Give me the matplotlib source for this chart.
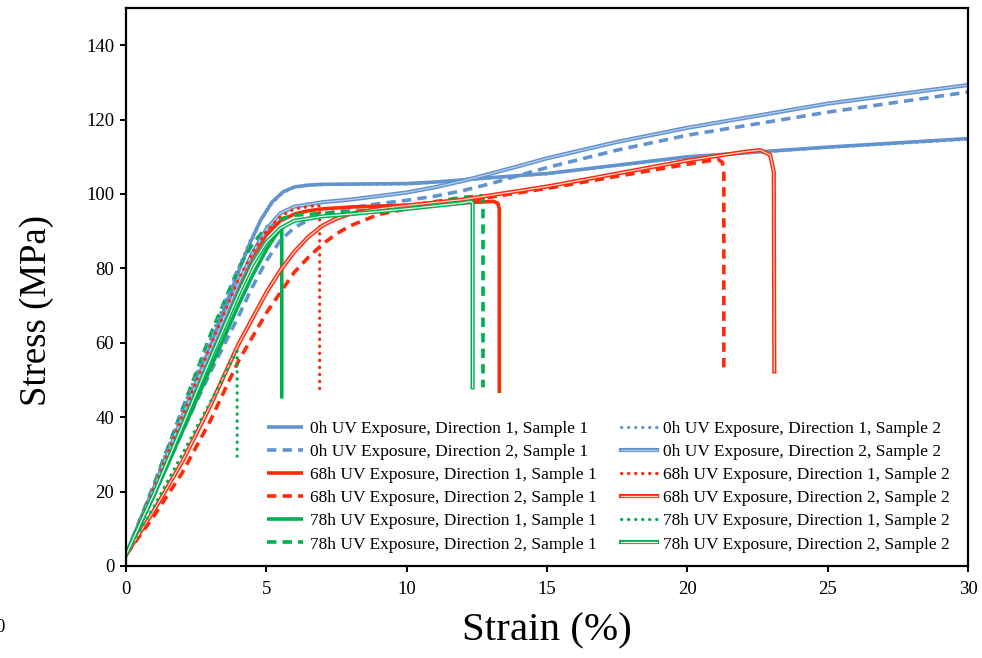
import matplotlib
matplotlib.use("Agg")
import matplotlib.pyplot as plt
import matplotlib.patheffects as pe
from matplotlib.colors import to_rgb

plt.rcParams['font.family'] = ['Liberation Serif', 'DejaVu Serif']

# ---------------- data (strain %, stress MPa) ----------------
x_0h_d1_s1 = [0, 1, 2, 3, 4, 4.4, 4.8, 5.2, 5.6, 6, 6.5, 7, 10, 11, 12, 13, 15, 20, 25, 30]
y_0h_d1_s1 = [3, 21, 40, 59, 79, 86.5, 93, 97.8, 100.6, 101.9, 102.4, 102.6, 102.8, 103.2, 103.8, 104.4, 105.5, 110, 112.6, 114.9]

x_0h_d1_s2 = [0, 1, 2, 3, 4, 4.4, 4.8, 5.2, 5.6, 6, 6.5, 7, 10, 11, 12, 13, 15, 20, 25, 30]
y_0h_d1_s2 = [3, 22, 42, 61, 80, 87, 93, 97.5, 100.4, 101.8, 102.3, 102.5, 102.7, 103.1, 103.7, 104.3, 105.4, 109.9, 112.5, 114.7]

x_0h_d2_s1 = [0, 1, 2, 3, 4, 4.5, 5, 5.5, 6, 6.5, 7, 8, 9, 10, 11, 12, 13, 14, 15, 17.5, 20, 25, 30]
y_0h_d2_s1 = [3, 19, 36, 52, 67, 75, 82, 87.5, 91, 93, 94.5, 96.3, 97.4, 98.3, 99.4, 100.9, 102.8, 105, 107.1, 111.8, 115.8, 122, 127.4]

x_0h_d2_s2 = [0, 1, 2, 3, 4, 4.5, 5, 5.5, 6, 7, 8, 10, 11, 12, 13, 14, 15, 17.5, 20, 25, 30]
y_0h_d2_s2 = [3, 21, 40, 58, 76, 84, 90.5, 94.8, 96.6, 97.8, 98.5, 100.4, 101.8, 103.5, 105.5, 107.5, 109.6, 114, 117.8, 124.3, 129.3]

x_68h_d1_s1 = [0, 1, 2, 3, 4, 4.5, 5, 5.5, 6, 6.5, 7, 8, 10, 12, 13.1, 13.25, 13.3, 13.3]
y_68h_d1_s1 = [3, 20.5, 39, 57.5, 75, 83, 89, 92.8, 94.6, 95.5, 96, 96.5, 97, 97.6, 98, 97.5, 96, 46.5]

x_68h_d1_s2 = [0, 1, 2, 3, 4, 4.5, 5, 5.5, 6, 6.85, 6.9, 6.9]
y_68h_d1_s2 = [3, 21, 40, 59, 77, 84, 90, 94, 96, 97, 96.5, 46.8]

x_68h_d2_s1 = [0, 1, 2, 3, 4, 5, 6, 6.5, 7, 7.5, 8, 9, 10, 12, 15, 20, 21.1, 21.25, 21.3, 21.3]
y_68h_d2_s1 = [3, 13.5, 25, 39, 55, 68, 79, 83, 86.5, 89.3, 91.5, 94.5, 96, 98, 101.5, 108, 109.3, 108.5, 106, 52.5]

x_68h_d2_s2 = [0, 1, 2, 3, 4, 5, 5.5, 6, 6.5, 7, 7.5, 8, 9, 10, 12, 15, 20, 22, 22.6, 22.95, 23.08, 23.1]
y_68h_d2_s2 = [3, 15, 28, 43, 59.5, 73.5, 79.5, 84.5, 88.5, 91.5, 93.4, 94.7, 96, 96.9, 98.5, 102, 109, 111.3, 111.8, 110.5, 106, 52.3]

x_78h_d1_s1 = [0, 1, 2, 3, 4, 4.5, 5, 5.3, 5.55, 5.55]
y_78h_d1_s1 = [3, 19, 36, 53, 70, 78, 85, 88.5, 91, 45]

x_78h_d1_s2 = [0, 1, 2, 3, 3.9, 3.96, 3.96]
y_78h_d1_s2 = [3, 16, 30, 44, 57, 57.8, 29.5]

x_78h_d2_s1 = [0, 1, 2, 3, 4, 4.5, 5, 5.5, 6, 7, 8, 10, 12, 12.65, 12.72, 12.72]
y_78h_d2_s1 = [3, 22, 42, 62, 80, 86.5, 91, 93.3, 94.3, 94.8, 95.2, 96.8, 99.1, 99.5, 99, 48]

x_78h_d2_s2 = [0, 1, 2, 3, 4, 4.5, 5, 5.5, 6, 7, 8, 10, 12, 12.3, 12.35, 12.35]
y_78h_d2_s2 = [3, 19.5, 37.5, 55.5, 73, 81, 87, 90.8, 92.8, 94, 94.6, 96, 97.6, 98, 97.5, 48]

labels = [
    "0h UV Exposure, Direction 1, Sample 1",
    "0h UV Exposure, Direction 2, Sample 1",
    "68h UV Exposure, Direction 1, Sample 1",
    "68h UV Exposure, Direction 2, Sample 1",
    "78h UV Exposure, Direction 1, Sample 1",
    "78h UV Exposure, Direction 2, Sample 1",
    "0h UV Exposure, Direction 1, Sample 2",
    "0h UV Exposure, Direction 2, Sample 2",
    "68h UV Exposure, Direction 1, Sample 2",
    "68h UV Exposure, Direction 2, Sample 2",
    "78h UV Exposure, Direction 1, Sample 2",
    "78h UV Exposure, Direction 2, Sample 2",
]
x_ticks = [0, 5, 10, 15, 20, 25, 30]
y_ticks = [0, 20, 40, 60, 80, 100, 120, 140]

# ---------------- style ----------------
BLUE = "#6193CF"
RED = "#FF2A0A"
GREEN = "#00B050"


def tint(c, f):
    r, g, b = to_rgb(c)
    return (r + (1 - r) * f, g + (1 - g) * f, b + (1 - b) * f)


fig = plt.figure(figsize=(9.82, 6.58), dpi=100)
ax = fig.add_axes([126 / 982, 1 - 566 / 658, (968 - 126) / 982, (566 - 8) / 658])


def solid(x, y, c, lab):
    l, = ax.plot(x, y, color=c, lw=2.6, solid_joinstyle='round', solid_capstyle='butt', label=lab)
    return l


def dashed(x, y, c, lab):
    l, = ax.plot(x, y, color=c, lw=2.6, linestyle=(0, (2.6, 1.7)), dash_capstyle='butt', label=lab)
    return l


def dotted(x, y, c, lab):
    l, = ax.plot(x, y, color=c, lw=2.3, linestyle=(0, (0.1, 2.1)), dash_capstyle='round', label=lab)
    return l


def double(x, y, c, lab, f):
    l, = ax.plot(x, y, color=tint(c, f), lw=0.9, solid_joinstyle='round', label=lab,
                 path_effects=[pe.Stroke(linewidth=3.0, foreground=c), pe.Normal()])
    return l


h = []
h.append(solid(x_0h_d1_s1, y_0h_d1_s1, BLUE, labels[0]))
h.append(dashed(x_0h_d2_s1, y_0h_d2_s1, BLUE, labels[1]))
h.append(solid(x_68h_d1_s1, y_68h_d1_s1, RED, labels[2]))
h.append(dashed(x_68h_d2_s1, y_68h_d2_s1, RED, labels[3]))
h.append(solid(x_78h_d1_s1, y_78h_d1_s1, GREEN, labels[4]))
h.append(dashed(x_78h_d2_s1, y_78h_d2_s1, GREEN, labels[5]))
h.append(dotted(x_0h_d1_s2, y_0h_d1_s2, BLUE, labels[6]))
h.append(double(x_0h_d2_s2, y_0h_d2_s2, BLUE, labels[7], 0.55))
h.append(dotted(x_68h_d1_s2, y_68h_d1_s2, RED, labels[8]))
h.append(double(x_68h_d2_s2, y_68h_d2_s2, RED, labels[9], 0.8))
h.append(dotted(x_78h_d1_s2, y_78h_d1_s2, GREEN, labels[10]))
h.append(double(x_78h_d2_s2, y_78h_d2_s2, GREEN, labels[11], 0.9))

ax.set_xlim(0, 30)
ax.set_ylim(0, 150)
ax.set_xticks(x_ticks)
ax.set_yticks(y_ticks)
ax.tick_params(axis='both', direction='out', length=4.5, width=1.4, labelsize=13.5, colors='black')
ax.tick_params(axis='x', pad=6)
ax.tick_params(axis='y', pad=4)
for s in ax.spines.values():
    s.set_linewidth(1.6)
    s.set_color('black')

ax.set_xlabel("Strain (%)", fontsize=29.5)
ax.set_ylabel("Stress (MPa)", fontsize=26.5)
ax.xaxis.set_label_coords(0.5, -0.084)
ax.yaxis.set_label_coords(-0.085, 0.457)

leg = ax.legend(handles=h, ncol=2, frameon=False, fontsize=12.5,
                loc='upper left', bbox_to_anchor=(0.1675, 0.260),
                borderpad=0, borderaxespad=0, handlelength=2.1, handletextpad=0.35,
                columnspacing=1.4, labelspacing=0.4)

fig.text(0.0, 1 - 628 / 658, "0", ha='center', va='center', fontsize=13.5)

fig.savefig("out.png", dpi=100)
